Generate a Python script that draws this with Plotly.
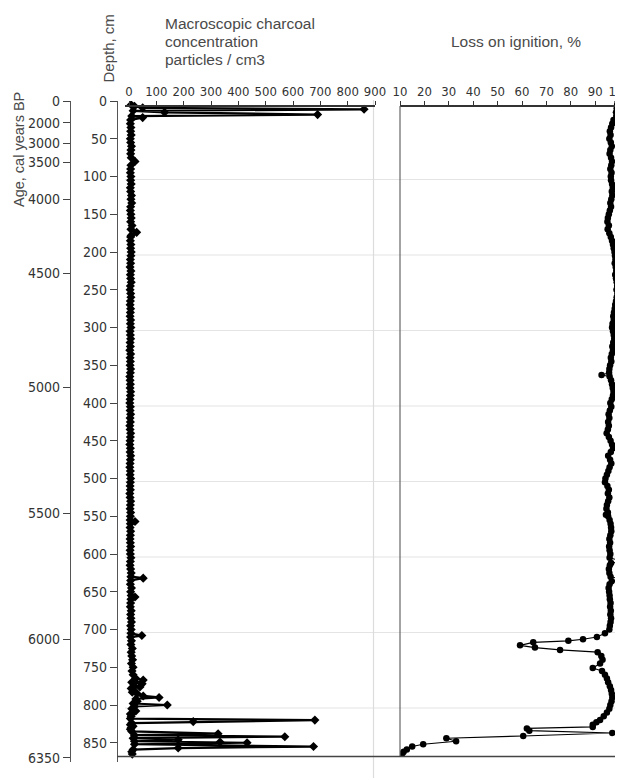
import plotly.graph_objects as go

W, H = 623, 780
OFF = 8  # the page body margin shifts the figure by 8 px

# ---------------- data ----------------
charcoal_depth = [
    5, 7, 9, 11, 13, 15, 18, 20, 22, 25, 30, 35, 40, 45, 50, 55, 60, 65, 70, 75,
    80, 85, 90, 95, 100, 105, 110, 115, 120, 125, 130, 135, 140, 145, 150, 155, 160, 165, 170, 174,
    178, 180, 185, 190, 195, 200, 205, 210, 215, 220, 225, 230, 235, 240, 245, 250, 255, 260, 265, 270,
    275, 280, 285, 290, 295, 300, 305, 310, 315, 320, 325, 330, 335, 340, 345, 350, 355, 360, 365, 370,
    375, 380, 385, 390, 395, 400, 405, 410, 415, 420, 425, 430, 435, 440, 445, 450, 455, 460, 465, 470,
    475, 480, 485, 490, 495, 500, 505, 510, 515, 520, 525, 530, 535, 540, 545, 550, 555, 557, 560, 565,
    570, 575, 580, 585, 590, 595, 600, 605, 610, 615, 620, 625, 630, 632, 635, 640, 645, 650, 655, 657,
    660, 665, 670, 675, 680, 685, 690, 695, 700, 705, 708, 710, 715, 720, 725, 730, 735, 740, 745, 750,
    755, 760, 765, 767, 770, 772, 775, 776, 778, 780, 783, 785, 788, 790, 792, 795, 798, 800, 802, 805,
    808, 810, 812, 815, 818, 820, 822, 824, 826, 828, 830, 832, 835, 838, 840, 842, 844, 846, 848, 849,
    850, 852, 855, 857, 859, 862, 865,
]
charcoal_values = [
    8, 20, 50, 860, 15, 130, 690, 10, 50, 6, 5, 7, 6, 8, 5, 6, 9, 7, 6, 8,
    22, 7, 6, 5, 7, 6, 8, 5, 6, 9, 7, 10, 6, 5, 7, 8, 6, 11, 7, 28,
    8, 6, 5, 7, 6, 8, 7, 5, 6, 4, 7, 5, 6, 8, 5, 4, 6, 7, 5, 4,
    6, 5, 4, 6, 5, 7, 4, 5, 6, 4, 5, 3, 6, 4, 5, 4, 6, 5, 3, 4,
    5, 4, 6, 5, 4, 3, 5, 4, 6, 4, 5, 3, 4, 6, 5, 4, 3, 5, 4, 6,
    5, 4, 3, 5, 4, 6, 5, 4, 5, 3, 4, 6, 5, 4, 6, 5, 4, 22, 5, 4,
    6, 5, 4, 5, 6, 4, 5, 7, 5, 4, 6, 8, 7, 52, 6, 5, 9, 6, 8, 22,
    7, 6, 5, 8, 6, 7, 9, 6, 8, 7, 47, 6, 9, 7, 12, 8, 10, 13, 9, 15,
    11, 15, 25, 52, 10, 48, 20, 40, 8, 15, 12, 30, 52, 110, 25, 30, 15, 140, 20, 10,
    25, 15, 5, 8, 5, 680, 235, 10, 5, 15, 8, 5, 10, 326, 20, 570, 15, 180, 20, 333,
    432, 20, 675, 180, 15, 10, 12,
]

loi_depth = [
    0, 5, 10, 15, 20, 25, 30, 35, 40, 45, 50, 55, 60, 65, 70, 75, 80, 85, 90, 95,
    100, 105, 110, 115, 120, 125, 130, 135, 140, 145, 150, 155, 160, 165, 170, 175, 180, 185, 190, 195,
    200, 205, 210, 215, 220, 225, 230, 235, 240, 245, 250, 255, 260, 265, 270, 275, 280, 285, 290, 295,
    300, 305, 310, 315, 320, 325, 330, 335, 340, 345, 350, 355, 360, 363, 365, 370, 375, 380, 385, 390,
    395, 400, 405, 410, 415, 420, 425, 430, 435, 440, 445, 450, 455, 460, 465, 470, 475, 480, 485, 490,
    495, 500, 505, 510, 515, 520, 525, 530, 535, 540, 545, 548, 550, 555, 560, 565, 570, 575, 580, 585,
    590, 595, 600, 605, 610, 612, 615, 620, 625, 630, 634, 636, 640, 645, 650, 655, 660, 665, 670, 675,
    680, 685, 690, 695, 700, 705, 710, 713, 715, 717, 721, 724, 727, 730, 735, 740, 745, 751, 755, 760,
    765, 770, 775, 780, 785, 790, 795, 800, 805, 810, 815, 820, 823, 826, 829, 831, 834, 837, 841, 844,
    848, 852, 855, 859, 862, 864,
]
loi_values = [
    99.2, 99.0, 98.8, 98.5, 98.6, 97.5, 97.0, 96.5, 96.0, 96.3, 95.8, 96.4, 96.8, 96.2, 95.9, 96.5, 96.9, 96.6, 96.2, 96.7,
    96.4, 96.5, 96.9, 97.2, 96.8, 97.0, 96.6, 96.2, 96.5, 96.0, 95.6, 95.2, 95.0, 95.6, 95.1, 95.8, 96.4, 96.9, 97.3, 97.6,
    97.9, 98.1, 98.3, 98.0, 98.4, 98.6, 98.2, 98.5, 98.8, 99.0, 98.7, 99.1, 98.8, 98.5, 98.2, 98.0, 97.7, 97.4, 97.6, 97.1,
    96.9, 97.3, 97.6, 97.8, 97.4, 97.0, 97.3, 96.8, 96.4, 96.6, 96.1, 95.8, 95.7, 92.6, 95.9, 96.5, 96.9, 97.2, 97.5, 97.3,
    96.8, 96.2, 96.6, 96.0, 95.5, 95.8, 95.3, 95.6, 95.2, 94.7, 95.6, 96.3, 96.9, 97.3, 96.4, 95.3, 96.1, 96.6, 95.9, 95.4,
    94.8, 94.2, 94.0, 95.0, 95.6, 95.2, 95.8, 95.3, 94.8, 94.6, 95.2, 94.4, 95.3, 95.9, 96.3, 96.5, 96.6, 96.2, 95.8, 96.1,
    95.7, 95.9, 96.2, 95.9, 101.5, 96.5, 96.0, 95.6, 95.8, 96.3, 101.5, 96.8, 95.9, 95.5, 95.7, 95.9, 96.0, 96.3, 96.1, 96.4,
    96.2, 96.5, 96.3, 96.0, 95.8, 94.0, 90.7, 85.0, 79.0, 64.6, 59.2, 65.3, 75.6, 91.0, 92.5, 93.0, 92.0, 89.0, 92.8, 94.0,
    94.8, 95.3, 96.0, 96.5, 96.8, 97.0, 96.7, 96.2, 95.8, 94.8, 93.5, 92.0, 90.5, 89.0, 89.0, 62.0, 63.0, 97.0, 60.5, 29.0,
    33.0, 19.5, 15.0, 12.8, 11.5, 11.0,
]

depth_ticks = [0, 50, 100, 150, 200, 250, 300, 350, 400, 450, 500, 550, 600, 650, 700, 750, 800, 850]
age_labels = ["0", "2000", "3000", "3500", "4000", "4500", "5000", "5500", "6000", "6350"]
age_depth_pos = [0, 29, 56, 81, 130, 228, 379, 546, 713, 870]
charcoal_ticks = [0, 100, 200, 300, 400, 500, 600, 700, 800, 900]
loi_ticks = [10, 20, 30, 40, 50, 60, 70, 80, 90, 100]


def px(x):
    return (x - OFF) / W


def py(y):
    return 1 - (y - OFF) / H


NARROW = "Liberation Sans Narrow, Arial Narrow, DejaVu Sans Condensed, sans-serif"
SANS = "Liberation Sans, Arial, sans-serif"
TICKC = "#333333"
TITLEC = "#4a4a4a"

fig = go.Figure()

fig.add_trace(go.Scatter(
    x=charcoal_values, y=charcoal_depth, mode="lines+markers",
    line=dict(color="black", width=2.2),
    marker=dict(symbol="diamond", size=7, color="black"),
    xaxis="x", yaxis="y", showlegend=False, hoverinfo="skip",
))
fig.add_trace(go.Scatter(
    x=loi_values, y=loi_depth, mode="lines+markers",
    line=dict(color="black", width=1.1),
    marker=dict(symbol="circle", size=6.5, color="black"),
    xaxis="x2", yaxis="y", showlegend=False, hoverinfo="skip",
))
# carrier trace for the age axis
fig.add_trace(go.Scatter(
    x=[None], y=[None], xaxis="x", yaxis="y2", showlegend=False, hoverinfo="skip",
))

y_top, y_bot = 101, 762
depth_max = (y_bot - y_top) / 0.755

common_y = dict(
    range=[depth_max, 0], showgrid=False, zeroline=False, showline=True,
    linecolor="#555555", linewidth=1.3, ticks="outside", ticklen=7,
    tickcolor="#444444", tickwidth=1.3, automargin=False,
    tickfont=dict(family=NARROW, size=14, color=TICKC),
)

fig.update_layout(
    width=W, height=H,
    margin=dict(l=0, r=0, t=0, b=0, autoexpand=False),
    paper_bgcolor="white", plot_bgcolor="rgba(0,0,0,0)",
    xaxis=dict(
        domain=[px(125), px(375)], range=[-4 / 0.273, 900],
        side="top", anchor="free", position=py(106), automargin=False,
        showgrid=False, zeroline=False, showline=True,
        linecolor="#333333", linewidth=1.5, ticks="outside", ticklen=4,
        tickcolor="#333333", tickvals=charcoal_ticks,
        tickfont=dict(family=NARROW, size=13, color=TICKC),
    ),
    xaxis2=dict(
        domain=[px(400), px(623)], range=[10, 10 + 223 / 2.44],
        side="top", anchor="free", position=py(106), automargin=False,
        showgrid=False, zeroline=False, showline=True,
        linecolor="#333333", linewidth=1.5, ticks="outside", ticklen=4,
        tickcolor="#333333", tickvals=loi_ticks, ticklabeloverflow="allow",
        tickfont=dict(family=NARROW, size=13, color=TICKC),
    ),
    yaxis=dict(
        domain=[py(y_bot), py(y_top)], anchor="free", position=px(117),
        tickvals=depth_ticks, **common_y,
    ),
    yaxis2=dict(
        overlaying="y", anchor="free", position=px(70), side="left",
        tickvals=age_depth_pos, ticktext=age_labels, **common_y,
    ),
)

shapes = []
# light horizontal grid lines
for d in [104, 204, 304, 404, 504, 604, 704, 804]:
    shapes.append(dict(type="line", xref="paper", yref="y", x0=px(125), x1=px(623), y0=d, y1=d,
                       line=dict(color="#e4e4e4", width=1.2), layer="below"))
# faint separator at right of the charcoal panel
shapes.append(dict(type="line", xref="paper", yref="paper", x0=px(373.5), x1=px(373.5),
                   y0=py(778), y1=py(100), line=dict(color="#dcdcdc", width=1.2), layer="below"))
# LOI panel left line
shapes.append(dict(type="line", xref="paper", yref="paper", x0=px(400), x1=px(400),
                   y0=py(756), y1=py(106), line=dict(color="#666666", width=1.2)))
# bottom line
shapes.append(dict(type="line", xref="paper", yref="paper", x0=px(117), x1=px(623),
                   y0=py(756.5), y1=py(756.5), line=dict(color="#444444", width=1.5)))
fig.update_layout(shapes=shapes)

ann = []
ann.append(dict(text="Depth, cm", x=px(108), y=py(48.5), textangle=-90,
                font=dict(family=SANS, size=15, color=TITLEC)))
ann.append(dict(text="Age, cal years BP", x=px(19), y=py(150), textangle=-90,
                font=dict(family=SANS, size=14.5, color=TITLEC)))
for t, base in [("Macroscopic charcoal", 28.3), ("concentration", 46.7), ("particles / cm3", 65)]:
    ann.append(dict(text=t, x=px(163), y=py(base - 5.3), xanchor="left",
                    font=dict(family=SANS, size=15.5, color=TITLEC)))
ann.append(dict(text="Loss on ignition, %", x=px(449), y=py(46.7 - 5.3), xanchor="left",
                font=dict(family=SANS, size=15.5, color=TITLEC)))
for a in ann:
    a.update(xref="paper", yref="paper", showarrow=False, yanchor=a.get("yanchor", "middle"))
    a.setdefault("xanchor", "center")
fig.update_layout(annotations=ann)

fig.write_html("out.html")
